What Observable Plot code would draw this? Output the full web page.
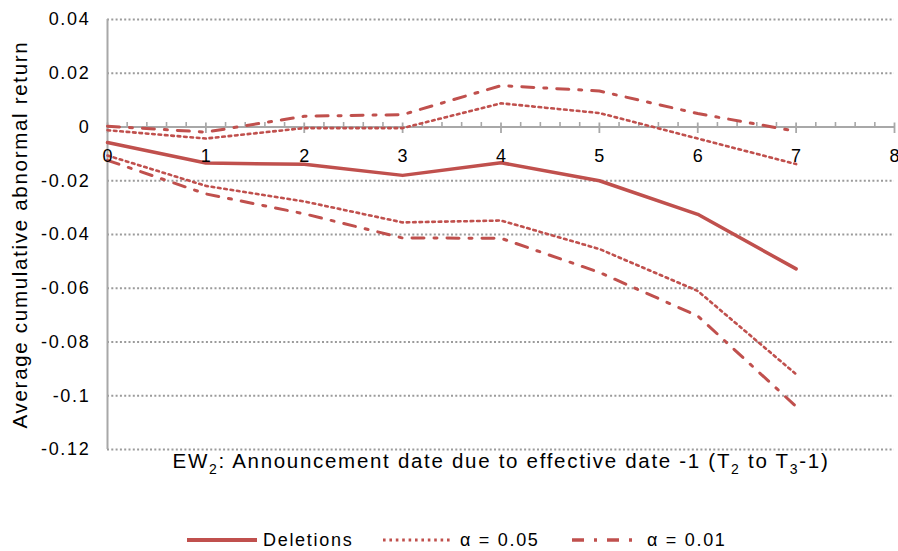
<!DOCTYPE html>
<html>
<head>
<meta charset="utf-8">
<script src="https://cdn.jsdelivr.net/npm/d3@7"></script>
<script src="https://cdn.jsdelivr.net/npm/@observablehq/plot@0.6"></script>
<style>
  html, body { margin: 0; padding: 0; background: #fff; }
  body { width: 898px; height: 551px; overflow: hidden; position: relative; font-family: "Liberation Sans", Arial, sans-serif; }
  #legend { position: absolute; left: 0; top: 526px; width: 898px; height: 28px; font-size: 18px; letter-spacing: 1.7px; color: #000; }
  #legend .item { position: absolute; top: 0; height: 28px; display: flex; align-items: center; }
  #legend svg { display: block; }
</style>
</head>
<body>
<div id="chart"></div>
<div id="legend"></div>
<script>
// ---- data ----
const days = [0, 1, 2, 3, 4, 5, 6, 7];
const deletions = [-0.0058, -0.0134, -0.0139, -0.0180, -0.0133, -0.0200, -0.0325, -0.0528];
const alpha05Upper = [-0.0012, -0.0043, -0.0004, -0.0004, 0.0088, 0.0052, -0.0043, -0.0138];
const alpha05Lower = [-0.0106, -0.0219, -0.0277, -0.0355, -0.0348, -0.0454, -0.0610, -0.0920];
const alpha01Upper = [0.0003, -0.0019, 0.0040, 0.0046, 0.0154, 0.0134, 0.0050, -0.0016];
const alpha01Lower = [-0.0124, -0.0249, -0.0323, -0.0413, -0.0414, -0.0541, -0.0703, -0.1040];
const xTicks = [0, 1, 2, 3, 4, 5, 6, 7, 8];
const yTicks = [0.04, 0.02, 0, -0.02, -0.04, -0.06, -0.08, -0.1, -0.12];
const seriesNames = ["Deletions", "α = 0.05", "α = 0.01"];
const yTitle = "Average cumulative abnormal return";
const xTitle = "EW2: Announcement date due to effective date -1 (T2 to T3-1)";

// ---- styles ----
const red = "#C0504D";
const gridGray = "#9b9b9b";
const axisGray = "#a8a8a8";
const solidStyle = {stroke: red, strokeWidth: 3.5};
const dotStyle = {stroke: red, strokeWidth: 2.6, strokeDasharray: "2.6,3.8"};
const dashDotStyle = {stroke: red, strokeWidth: 3, strokeDasharray: "12,10,3,10"};

const toRows = (vals) => days.map((d, i) => ({x: d, y: vals[i]}));
const minorTicks = d3.range(0, 40 + 1).map(i => i / 5).filter(v => !xTicks.includes(v));
const majorSym = {draw(ctx) { ctx.moveTo(0, -4.5); ctx.lineTo(0, 6); }};
const minorSym = {draw(ctx) { ctx.moveTo(0, -5); ctx.lineTo(0, 0); }};
const fmt = d => d === 0 ? "0" : String(Math.round(d * 100) / 100);

const chart = Plot.plot({
  width: 898,
  height: 500,
  marginLeft: 107,
  marginRight: 4,
  marginTop: 19,
  marginBottom: 51,
  style: {fontFamily: "'Liberation Sans', Arial, sans-serif", fontSize: "18px", letterSpacing: "1.7px", color: "#000", background: "#fff"},
  x: {domain: [0, 8], axis: null},
  y: {domain: [-0.12, 0.04], axis: null},
  marks: [
    Plot.ruleY(yTicks.filter(d => d !== 0), {stroke: gridGray, strokeWidth: 2, strokeDasharray: "2,2.3"}),
    Plot.ruleX([0], {stroke: axisGray, strokeWidth: 2}),
    Plot.ruleY([0], {stroke: axisGray, strokeWidth: 2}),
    Plot.dot(minorTicks, {x: d => d, y: () => 0, symbol: minorSym, stroke: axisGray, strokeWidth: 1.6, fill: "none"}),
    Plot.dot(xTicks, {x: d => d, y: () => 0, symbol: majorSym, stroke: axisGray, strokeWidth: 1.8, fill: "none"}),
    Plot.line(toRows(alpha05Upper), {x: "x", y: "y", ...dotStyle}),
    Plot.line(toRows(alpha05Lower), {x: "x", y: "y", ...dotStyle}),
    Plot.line(toRows(alpha01Upper), {x: "x", y: "y", ...dashDotStyle}),
    Plot.line(toRows(alpha01Lower), {x: "x", y: "y", ...dashDotStyle}),
    Plot.line(toRows(deletions), {x: "x", y: "y", ...solidStyle}),
    Plot.axisY(yTicks, {tickSize: 0, tickPadding: 17, tickFormat: fmt, label: null, fill: "#000", fontSize: 18}),
    Plot.text(xTicks, {x: d => d, y: () => 0, dy: 29, dx: 0.85, text: d => String(d), fill: "#000", fontSize: 18}),
    Plot.text([yTitle], {frameAnchor: "left", textAnchor: "middle", dx: -87, rotate: -90, text: d => d, fill: "#000", fontSize: 20.5}),
    Plot.text([xTitle], {frameAnchor: "bottom", textAnchor: "middle", dy: 18.5, text: d => d, fill: "#000", fontSize: 20.5})
  ]
});
document.getElementById("chart").appendChild(chart);

// subscripts in the x title
d3.select(chart).selectAll("text").filter(function() { return this.textContent === xTitle; })
  .each(function() {
    const t = d3.select(this);
    t.text(null);
    const parts = [["EW", 0], ["2", 1], [": Announcement date due to effective date -1 (T", 0], ["2", 1], [" to T", 0], ["3", 1], ["-1)", 0]];
    let prevSub = 0;
    for (const [s, sub] of parts) {
      const ts = t.append("tspan").text(s);
      const shift = sub ? 6 : 0;
      ts.attr("dy", shift - prevSub);
      if (sub) ts.attr("font-size", 14);
      prevSub = shift;
    }
  });

// legend
const legend = d3.select("#legend");
const legendItems = [
  {name: seriesNames[0], left: 187, len: 70, style: solidStyle, textGap: 6},
  {name: seriesNames[1], left: 383, len: 70, style: dotStyle, textGap: 7},
  {name: seriesNames[2], left: 572, len: 62, style: dashDotStyle, textGap: 13}
];
for (const it of legendItems) {
  const item = legend.append("div").attr("class", "item").style("left", it.left + "px");
  const s = item.append("svg").attr("width", it.len).attr("height", 10).style("margin-right", it.textGap + "px");
  s.append("line").attr("x1", 0).attr("x2", it.len).attr("y1", 5).attr("y2", 5)
    .attr("stroke", it.style.stroke).attr("stroke-width", it.style.strokeWidth + 0.5)
    .attr("stroke-dasharray", it.style.strokeDasharray || null);
  item.append("span").text(it.name);
}
</script>
</body>
</html>
